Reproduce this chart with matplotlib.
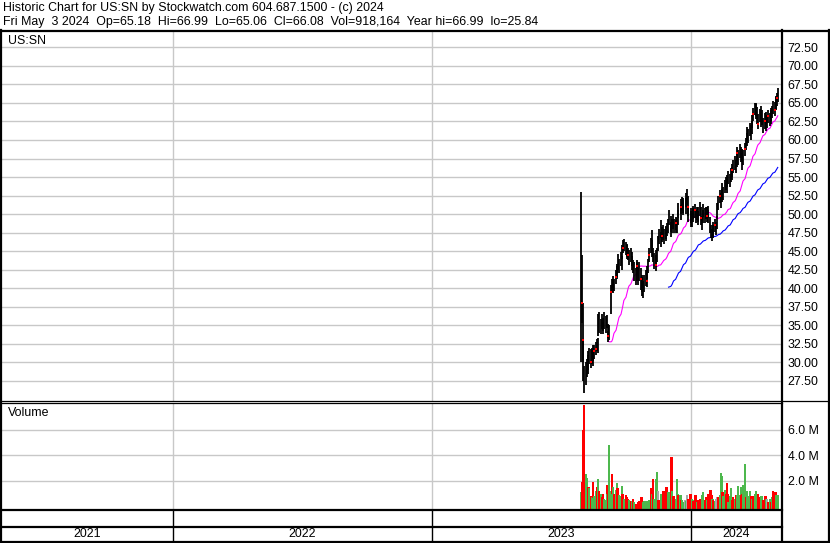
import matplotlib
matplotlib.use("Agg")
import matplotlib.pyplot as plt
import numpy as np
import pandas as pd

plt.rcParams['font.family'] = ['Liberation Sans', 'DejaVu Sans']

W, H = 830, 543

# daily bars for US:SN, 2023-07-31 .. 2024-05-03
closes = [
    40.0, 38.0, 33.0, 29.0, 27.0, 28.5, 29.8, 29.0, 30.5, 31.0,
    30.0, 30.8, 31.2, 30.6, 31.5, 31.8, 32.5, 32.0, 34.8, 35.2,
    34.5, 35.8, 35.0, 34.6, 35.5, 34.9, 35.6, 34.0, 33.5, 34.2,
    39.5, 40.5, 40.0, 40.8, 40.2, 41.5, 42.5, 42.0, 43.5, 42.8,
    44.0, 43.2, 45.0, 45.5, 46.0, 45.2, 44.8, 45.3, 44.5, 44.0,
    44.6, 43.8, 43.2, 42.8, 42.0, 41.5, 43.0, 42.5, 41.8, 42.3,
    41.2, 40.5, 40.0, 39.8, 40.6, 41.5, 42.2, 41.0, 43.0, 44.5,
    45.8, 46.5, 45.5, 44.5, 43.6, 44.0, 43.2, 44.8, 46.0, 47.2,
    46.5, 47.8, 47.0, 47.5, 46.8, 47.6, 47.2, 48.0, 48.4, 49.5,
    48.6, 47.8, 48.5, 49.0, 48.2, 48.8, 48.0, 48.6, 49.5, 50.5,
    51.0, 50.2, 51.5, 50.8, 51.2, 52.0, 51.0, 52.2, 51.0, 50.0,
    49.2, 49.8, 49.0, 50.3, 49.8, 50.5, 49.6, 50.2, 49.4, 50.0,
    50.8, 49.5, 48.6, 49.8, 50.5, 49.6, 50.2, 49.8, 50.4, 49.5,
    48.4, 47.6, 47.0, 48.2, 47.5, 48.5, 48.0, 49.0, 50.6, 51.5,
    52.4, 51.8, 52.6, 53.2, 52.5, 53.8, 54.3, 53.6, 54.5, 55.0,
    54.2, 55.4, 56.0, 55.3, 56.5, 57.0, 56.2, 57.4, 58.2, 57.5,
    58.6, 57.8, 57.0, 58.0, 57.5, 58.8, 59.5, 60.2, 61.0, 60.4,
    61.5, 60.8, 61.8, 62.5, 63.5, 64.4, 63.6, 64.2, 63.0, 62.2,
    63.4, 62.5, 63.8, 62.8, 61.8, 62.6, 62.0, 63.0, 62.4, 63.2,
    62.6, 63.5, 62.9, 63.8, 64.5, 64.0, 65.2, 64.8, 65.6, 66.08,
]
highs = [
    53.0, 44.5, 38.0, 33.0, 29.5, 30.0, 30.5, 31.0, 31.5, 32.0,
    31.8, 32.0, 32.3, 31.8, 32.4, 32.8, 33.2, 33.3, 36.5, 36.8,
    35.8, 36.6, 36.0, 35.5, 36.8, 36.2, 36.4, 35.2, 34.3, 35.0,
    40.5, 41.2, 41.0, 41.6, 41.3, 42.5, 43.3, 43.0, 44.6, 43.9,
    44.9, 44.3, 45.8, 46.5, 46.6, 46.2, 45.8, 46.0, 45.5, 45.2,
    45.4, 44.9, 44.3, 43.8, 43.5, 42.8, 43.8, 43.5, 42.8, 43.6,
    42.8, 41.8, 41.5, 41.0, 41.8, 42.5, 43.0, 42.0, 44.0, 45.5,
    46.8, 47.9, 46.5, 45.5, 44.8, 45.2, 44.5, 45.5, 47.0, 48.0,
    47.6, 49.2, 48.2, 48.5, 48.0, 48.4, 48.2, 48.8, 49.3, 50.6,
    49.8, 49.0, 49.4, 50.0, 49.3, 49.6, 49.2, 49.5, 50.5, 51.5,
    52.0, 51.2, 52.3, 51.9, 52.2, 52.8, 52.2, 53.4, 52.5, 51.0,
    50.4, 50.8, 50.2, 51.1, 50.8, 51.4, 50.6, 51.0, 50.4, 50.9,
    51.6, 51.0, 49.8, 50.6, 51.4, 50.8, 51.0, 50.9, 51.1, 50.6,
    49.6, 48.6, 48.0, 49.0, 48.6, 49.4, 49.0, 49.8, 51.5, 52.5,
    53.3, 52.8, 53.4, 54.2, 53.6, 54.6, 55.0, 54.8, 55.3, 55.8,
    55.4, 56.2, 56.8, 56.4, 57.3, 57.8, 57.3, 58.2, 59.0, 58.6,
    59.4, 59.0, 58.2, 58.8, 58.6, 59.6, 60.3, 61.0, 61.8, 61.5,
    62.3, 62.0, 62.6, 63.4, 64.3, 65.0, 64.8, 65.0, 64.4, 63.5,
    64.2, 63.8, 64.6, 64.0, 63.0, 63.6, 63.2, 63.8, 63.4, 64.0,
    63.6, 64.3, 64.0, 64.6, 65.3, 65.1, 66.0, 65.8, 66.3, 66.99,
]
lows = [
    30.0, 35.3, 30.0, 27.5, 25.84, 27.0, 28.0, 28.5, 29.0, 29.8,
    29.3, 29.8, 30.2, 29.5, 30.5, 31.0, 31.5, 31.3, 33.5, 34.0,
    33.8, 34.5, 34.2, 33.9, 34.5, 34.0, 34.7, 33.3, 32.8, 33.0,
    36.5, 39.5, 39.3, 39.8, 39.6, 40.6, 41.5, 41.2, 42.5, 42.0,
    43.0, 42.5, 44.0, 44.7, 45.0, 44.5, 44.0, 44.2, 43.8, 43.2,
    43.6, 43.0, 42.4, 42.0, 41.0, 40.5, 41.0, 41.8, 40.5, 41.0,
    39.8, 39.5, 39.0, 38.7, 39.5, 40.3, 41.2, 40.2, 42.0, 43.5,
    44.8, 45.5, 44.2, 43.5, 42.6, 43.0, 42.3, 43.5, 45.0, 46.0,
    45.6, 46.8, 46.2, 46.5, 46.0, 46.6, 46.4, 47.0, 47.5, 48.5,
    47.6, 46.9, 47.5, 48.0, 47.5, 47.8, 47.4, 47.5, 48.6, 49.5,
    50.0, 49.2, 50.4, 49.9, 50.2, 51.0, 50.0, 51.2, 49.8, 49.0,
    48.3, 48.8, 48.2, 49.4, 48.9, 49.5, 48.8, 49.2, 48.6, 49.0,
    49.8, 48.5, 47.9, 48.8, 49.6, 48.8, 49.3, 49.0, 49.5, 48.8,
    47.5, 46.8, 46.4, 47.0, 46.8, 47.6, 47.2, 48.0, 49.5, 50.6,
    51.5, 50.8, 51.7, 52.3, 51.9, 52.8, 53.2, 52.9, 53.6, 54.0,
    53.6, 54.4, 55.0, 54.6, 55.5, 56.0, 55.5, 56.4, 57.2, 56.6,
    57.6, 57.0, 56.0, 57.0, 56.6, 57.8, 58.6, 59.2, 60.0, 59.6,
    60.5, 60.0, 60.8, 61.6, 62.5, 63.4, 62.8, 63.2, 62.2, 61.5,
    62.4, 61.7, 62.8, 62.0, 61.0, 61.5, 61.2, 62.0, 61.6, 62.3,
    61.9, 62.6, 62.1, 62.9, 63.5, 63.2, 64.2, 64.0, 64.6, 65.06,
]
# volume in millions, colour code: g = up, r = down, n = unchanged
vol_m = [
    1.1, 1.9, 3.6, 6.0, 7.9, 2.5, 2.25, 1.0, 1.5, 1.4,
    0.8, 0.7, 1.9, 0.63, 0.8, 1.2, 1.5, 0.9, 2.1, 1.2,
    1.0, 0.75, 0.75, 1.0, 0.6, 0.5, 1.7, 1.0, 1.5, 4.8,
    1.2, 2.5, 1.0, 1.5, 1.0, 1.3, 1.8, 1.4, 1.3, 0.9,
    0.8, 1.6, 1.0, 0.7, 0.6, 0.9, 0.7, 0.55, 0.25, 0.5,
    0.45, 0.35, 0.4, 0.6, 0.3, 0.2, 0.1, 0.2, 0.3, 0.45,
    0.75, 0.6, 0.7, 0.3, 0.4, 0.45, 0.45, 0.45, 0.4, 0.5,
    0.9, 1.4, 1.0, 2.1, 0.6, 0.9, 2.1, 2.7, 1.2, 0.5,
    0.7, 1.0, 0.95, 0.5, 1.2, 0.8, 1.5, 0.6, 1.1, 1.1,
    0.8, 3.9, 1.2, 0.5, 0.8, 0.6, 0.6, 2.1, 1.0, 0.9,
    0.87, 0.5, 0.49, 0.3, 0.23, 0.49, 0.4, 0.9, 0.36, 0.6,
    0.93, 0.87, 0.6, 0.49, 0.4, 0.87, 0.36, 0.3, 0.23, 0.5,
    0.54, 0.56, 0.87, 0.6, 1.1, 0.5, 0.75, 0.4, 0.49, 0.93,
    1.26, 0.7, 0.87, 0.6, 0.49, 0.42, 0.54, 0.6, 0.7, 0.75,
    0.9, 2.6, 2.4, 1.13, 0.8, 1.26, 1.0, 1.8, 0.93, 0.36,
    0.8, 1.4, 0.5, 0.49, 0.75, 0.6, 0.87, 0.7, 0.87, 1.6,
    0.9, 1.5, 0.87, 1.0, 1.7, 3.3, 0.93, 0.7, 1.2, 0.8,
    1.2, 0.7, 0.8, 0.6, 0.8, 1.0, 1.2, 0.9, 0.8, 1.0,
    0.7, 0.54, 0.8, 0.7, 0.5, 0.78, 0.78, 0.6, 0.59, 0.3,
    0.54, 0.6, 0.36, 0.7, 1.2, 0.9, 1.13, 0.87, 0.75, 0.918,
]
vol_dir = ("grrrrggrrg" "rgrgggrggr" "grrrggrgrg" "grggrggrrg" "ggrrgrrrrg"
           "rrgrgrrrrr" "rrrggggggg" "rrgrgrggnr" "gggrrgrrgg" "rrggrrgggr"
           "grgggngnrr" "rrggrrrggr" "rrgggrrggr" "rrrgrgnrnr" "gggrggrrrg"
           "ggrrrgrrgg" "ggrrgggrgg" "grrgrggggr" "rrggrrrgnr" "ggrgrrrggg")
red_days = [1, 2, 10, 14, 15, 28, 30, 35, 43, 48, 56, 60, 67, 69, 76, 82, 95,
            100, 108, 115, 121, 127, 135, 140, 152, 158, 165, 174, 179, 185,
            189, 195, 198]
years = ['2021', '2022', '2023', '2024']
price_ticks = np.arange(27.5, 72.51, 2.5)
vol_ticks = [2, 4, 6]

dates = pd.bdate_range('2023-07-31', periods=len(closes))
ma30 = pd.Series(closes).rolling(30).mean()
ma90 = pd.Series(closes).rolling(90).mean()
col_map = {'g': '#4db84d', 'r': '#ff0000', 'n': '#a8a8a8'}
vcolors = [col_map[c] for c in vol_dir]

x0, x1 = pd.Timestamp('2021-05-05'), pd.Timestamp('2024-05-09')
year_starts = [pd.Timestamp(f'{y}-01-01') for y in (2022, 2023, 2024)]
bounds = [x0] + year_starts + [x1]

GRID = '#c8c8c8'
TXT = '#000000'
FS = 8.9

fig = plt.figure(figsize=(W / 100, H / 100), dpi=100)


def box(l, t, r, b):
    return [l / W, 1 - b / H, (r - l) / W, (b - t) / H]


def clean(ax):
    for s in ax.spines.values():
        s.set_visible(False)
    ax.set_xlim(x0, x1)
    ax.set_xticks([])


# price panel
ax_p = fig.add_axes(box(2, 31, 782, 401))
clean(ax_p)
ax_p.set_ylim(24.8, 74.7)
ax_p.set_yticks(price_ticks)
ax_p.set_yticklabels([f'{t:.2f}' for t in price_ticks])
ax_p.yaxis.tick_right()
ax_p.tick_params(axis='y', length=0, pad=4, labelsize=FS, labelcolor=TXT)
ax_p.grid(axis='y', color=GRID, lw=1)
for d in year_starts:
    ax_p.axvline(d, color=GRID, lw=1)
ax_p.vlines(dates, lows, highs, color='black', lw=1.3, zorder=3)
ax_p.plot(dates[red_days], np.array(closes)[red_days], 's', color='red',
          ms=1.6, mew=0, zorder=4)
ax_p.plot(dates, ma30, color='#ff00ff', lw=0.8, zorder=2)
ax_p.plot(dates, ma90, color='#0000ff', lw=0.8, zorder=2)

# volume panel
vlo = -0.21
ax_v = fig.add_axes(box(2, 403.5, 782, 509))
clean(ax_v)
ax_v.set_ylim(vlo, 8.05)
ax_v.set_yticks(vol_ticks)
ax_v.set_yticklabels([f'{t:.1f} M' for t in vol_ticks])
ax_v.yaxis.tick_right()
ax_v.tick_params(axis='y', length=0, pad=4, labelsize=FS, labelcolor=TXT)
ax_v.grid(axis='y', color=GRID, lw=1)
for d in year_starts:
    ax_v.axvline(d, color=GRID, lw=1)
ax_v.bar(dates, np.array(vol_m) - vlo, bottom=vlo, width=3.2,
         color=vcolors, linewidth=0, zorder=3)

# empty band and year row
for t, b in ((509, 527), (527, 541)):
    ax_b = fig.add_axes(box(2, t, 782, b))
    clean(ax_b)
    ax_b.set_yticks([])
    for d in year_starts:
        ax_b.axvline(d, color='black', lw=1)
    if t == 527:
        for i, y in enumerate(years):
            mid = bounds[i] + (bounds[i + 1] - bounds[i]) / 2
            ax_b.text(mid, 0.5, y, ha='center', va='center', fontsize=FS,
                      color=TXT)

# frame and header
ov = fig.add_axes([0, 0, 1, 1], zorder=10)
ov.set_xlim(0, W)
ov.set_ylim(H, 0)
ov.axis('off')
ov.patch.set_alpha(0)
thick = 1.6
ov.plot([0, W], [30.5, 30.5], color='black', lw=thick)
ov.plot([0, W], [541.5, 541.5], color='black', lw=thick)
ov.plot([1, 1], [30, 542], color='black', lw=thick)
ov.plot([828.5, 828.5], [30, 542], color='black', lw=thick)
ov.plot([782, 782], [30, 542], color='black', lw=thick)
ov.plot([0, W], [400.5, 400.5], color='black', lw=0.9)
ov.plot([0, 782], [403, 403], color='black', lw=0.9)
ov.plot([0, 782], [509.5, 509.5], color='black', lw=thick)
ov.plot([0, 782], [527, 527], color='black', lw=thick)

ov.text(3, 8.5, 'Historic Chart for US:SN by Stockwatch.com 604.687.1500 - (c) 2024',
        fontsize=FS, va='center', color=TXT)
ov.text(3, 22.5, 'Fri May  3 2024  Op=65.18  Hi=66.99  Lo=65.06  Cl=66.08  '
        'Vol=918,164  Year hi=66.99  lo=25.84', fontsize=FS, va='center', color=TXT)
ov.text(8, 41.5, 'US:SN', fontsize=FS, va='center', color=TXT)
ov.text(8, 413, 'Volume', fontsize=FS, va='center', color=TXT)

fig.savefig('out.png', dpi=100)
